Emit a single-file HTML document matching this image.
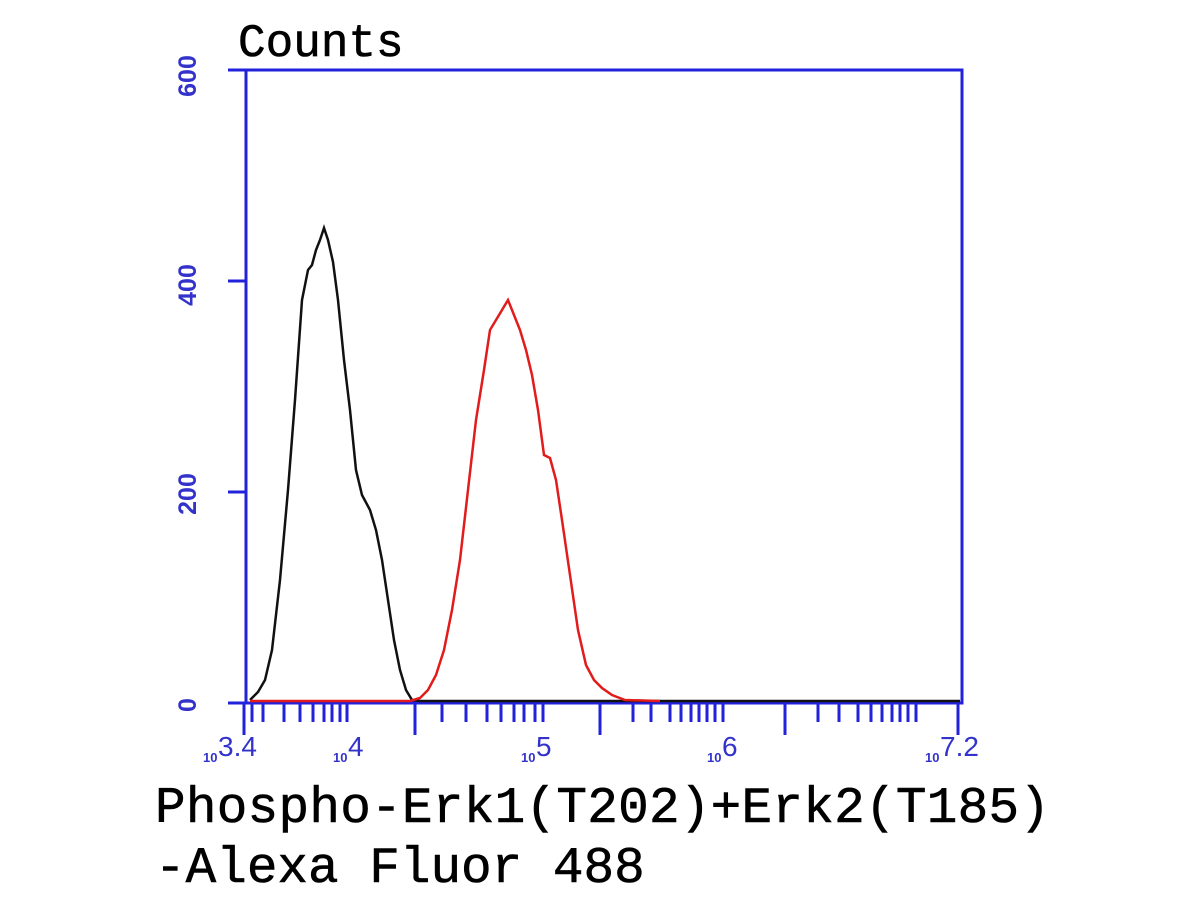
<!DOCTYPE html>
<html><head><style>body{margin:0;background:#fff}svg{display:block}</style></head><body>
<svg width="1200" height="900" xmlns="http://www.w3.org/2000/svg">
<rect width="1200" height="900" fill="#fff"/>
<text x="238" y="56" font-family="Liberation Mono, monospace" font-size="46" fill="#000" stroke="#000" stroke-width="0.6">Counts</text>
<rect x="246" y="70" width="716" height="633" fill="none" stroke="#2222dd" stroke-width="3"/>
<g stroke="#2222dd" stroke-width="3">
<line x1="228" y1="70" x2="246" y2="70"/><line x1="228" y1="281" x2="246" y2="281"/><line x1="228" y1="492" x2="246" y2="492"/><line x1="228" y1="703" x2="246" y2="703"/>
</g>
<g font-family="Liberation Sans, sans-serif" font-size="25" font-weight="bold" fill="#3333cc">
<text transform="translate(196,76) rotate(-90)" text-anchor="middle">600</text>
<text transform="translate(196,285) rotate(-90)" text-anchor="middle">400</text>
<text transform="translate(196,494) rotate(-90)" text-anchor="middle">200</text>
<text transform="translate(196,705) rotate(-90)" text-anchor="middle">0</text>
</g>
<g stroke="#2222dd" stroke-width="3" id="ticks"></g>
<g font-family="Liberation Sans, sans-serif" fill="#3333cc">
<text x="203" y="762" font-size="13" font-weight="bold">10</text><text x="218" y="756" font-size="28">3.4</text>
<text x="333" y="762" font-size="13" font-weight="bold">10</text><text x="348" y="756" font-size="28">4</text>
<text x="521" y="762" font-size="13" font-weight="bold">10</text><text x="536" y="756" font-size="28">5</text>
<text x="707" y="762" font-size="13" font-weight="bold">10</text><text x="722" y="756" font-size="28">6</text>
<text x="925" y="762" font-size="13" font-weight="bold">10</text><text x="940" y="756" font-size="28">7.2</text>
</g>
<polyline fill="none" stroke="#111" stroke-width="2.5" points="250,700 258,692 265,680 272,650 280,580 288,490 295,400 302,300 308,270 312,265 316,250 320,240 324,228 328,240 333,262 338,300 344,360 350,410 356,470 362,495 370,510 376,530 382,560 388,600 394,640 400,670 406,690 412,700 420,701 960,701"/>
<polyline fill="none" stroke="#e21b1b" stroke-width="2.5" points="250,701 410,701 420,698 428,690 436,675 444,650 452,610 460,560 468,490 476,420 484,370 490,330 496,320 502,310 508,300 514,315 520,330 526,350 532,375 538,410 544,455 550,458 556,480 562,520 570,575 578,630 586,665 594,680 602,688 612,695 625,700 660,701"/>
<script>
const g=document.getElementById('ticks');
const xs=[244,252,263,284,300,313,324,332,340,347,415,442,466,487,501,514,524,535,543,600,633,651,670,681,691,699,707,715,723,785,818,839,858,871,882,892,900,908,916,958];
const major=[244,415,600,785,958];
for(const x of xs){const l=document.createElementNS('http://www.w3.org/2000/svg','line');l.setAttribute('x1',x);l.setAttribute('x2',x);l.setAttribute('y1',703);l.setAttribute('y2',major.includes(x)?735:722);g.appendChild(l);}
</script>
<text x="155" y="822" font-family="Liberation Mono, monospace" font-size="51" fill="#000" stroke="#000" stroke-width="0.6" textLength="895">Phospho-Erk1(T202)+Erk2(T185)</text>
<text x="155" y="882" font-family="Liberation Mono, monospace" font-size="51" fill="#000" stroke="#000" stroke-width="0.6">-Alexa Fluor 488</text>
</svg>
</body></html>
